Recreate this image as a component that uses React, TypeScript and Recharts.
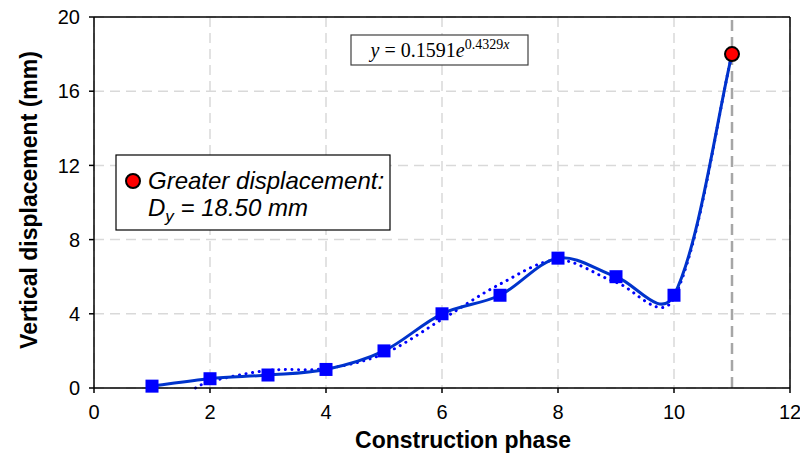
import React from "react";
import {
  ComposedChart,
  Line,
  XAxis,
  YAxis,
  CartesianGrid,
  ReferenceLine,
} from "recharts";

// measured values per construction phase
const phases = [1, 2, 3, 4, 5, 6, 7, 8, 9, 10, 11];
const displacement = [0.1, 0.5, 0.7, 1.0, 2.0, 4.0, 5.0, 7.0, 6.0, 5.0, 18.0];

// dotted trend curve
const trendPhases = [1.75, 2, 3, 4, 5, 6, 7, 8, 9, 10, 11];
const trendValues = [0, 0.35, 0.95, 1.05, 1.85, 3.7, 5.6, 6.9, 5.7, 4.85, 18.0];

const xTicks = [0, 2, 4, 6, 8, 10, 12];
const yTicks = [0, 4, 8, 12, 16, 20];

const measured = phases.map((p, i) => ({ phase: p, value: displacement[i] }));
const trend = trendPhases.map((p, i) => ({ phase: p, value: trendValues[i] }));

const FONT = "'Liberation Sans', Arial, sans-serif";

// Excel-like smoothed line: bezier arms partly scaled by neighbouring segment lengths
function excelSmooth(context: any) {
  let pts: [number, number][] = [];
  const dist = (a: number[], b: number[]) => Math.hypot(a[0] - b[0], a[1] - b[1]);
  return {
    areaStart() {},
    areaEnd() {},
    lineStart() {
      pts = [];
    },
    point(x: number, y: number) {
      pts.push([x, y]);
    },
    lineEnd() {
      if (!pts.length) return;
      context.moveTo(pts[0][0], pts[0][1]);
      for (let i = 0; i < pts.length - 1; i++) {
        const p0 = pts[Math.max(0, i - 1)];
        const p1 = pts[i];
        const p2 = pts[i + 1];
        const p3 = pts[Math.min(pts.length - 1, i + 2)];
        const d01 = dist(p0, p1);
        const d12 = dist(p1, p2);
        const d23 = dist(p2, p3);
        const a = 0.5 * (1 / 6) + 0.5 * (d12 / (d01 + d12 || 1) / 3);
        const b = 0.5 * (1 / 6) + 0.5 * (d12 / (d12 + d23 || 1) / 3);
        context.bezierCurveTo(
          p1[0] + (p2[0] - p0[0]) * a,
          p1[1] + (p2[1] - p0[1]) * a,
          p2[0] - (p3[0] - p1[0]) * b,
          p2[1] - (p3[1] - p1[1]) * b,
          p2[0],
          p2[1]
        );
      }
    },
  };
}

function MarkerDot(props: any) {
  const { cx, cy, index } = props;
  if (cx == null || cy == null) return null;
  if (index === phases.length - 1) {
    return (
      <circle key={index} cx={cx} cy={cy} r={7} fill="#ff0000" stroke="#000" strokeWidth={2} />
    );
  }
  return <rect key={index} x={cx - 6.5} y={cy - 6.5} width={13} height={13} fill="#0000ff" />;
}

export default function App() {
  return (
    <div style={{ position: "absolute", left: 0, top: 0, width: 800, height: 457, background: "#fff" }}>
      <ComposedChart
        width={800}
        height={457}
        margin={{ top: 17, right: 10, bottom: 0, left: 0 }}
      >
        <CartesianGrid stroke="#d9d9d9" strokeWidth={1.5} strokeDasharray="10 6" />
        <XAxis
          type="number"
          dataKey="phase"
          domain={[0, 12]}
          ticks={xTicks}
          allowDataOverflow
          height={69}
          tick={{ fontSize: 20, fill: "#000", fontFamily: FONT }}
          tickSize={5}
          tickMargin={12}
          axisLine={{ stroke: "#000", strokeWidth: 1.5 }}
          tickLine={{ stroke: "#000", strokeWidth: 1.5 }}
        />
        <YAxis
          type="number"
          domain={[0, 20]}
          ticks={yTicks}
          width={94}
          tick={{ fontSize: 20, fill: "#000", fontFamily: FONT }}
          tickSize={5}
          tickMargin={9}
          axisLine={{ stroke: "#000", strokeWidth: 1.5 }}
          tickLine={{ stroke: "#000", strokeWidth: 1.5 }}
        />
        <ReferenceLine y={20} stroke="#000" strokeWidth={1.5} />
        <ReferenceLine x={12} stroke="#000" strokeWidth={1.5} />
        <ReferenceLine x={11} stroke="#a6a6a6" strokeWidth={2.5} strokeDasharray="11 6" />
        <Line
          data={trend}
          dataKey="value"
          type={excelSmooth as any}
          stroke="#0000ff"
          strokeWidth={3}
          strokeDasharray="0.1 6.5"
          strokeLinecap="round"
          dot={false}
          activeDot={false}
          isAnimationActive={false}
        />
        <Line
          data={measured}
          dataKey="value"
          type={excelSmooth as any}
          stroke="#0033cc"
          strokeWidth={3}
          dot={<MarkerDot />}
          activeDot={false}
          isAnimationActive={false}
        />
      </ComposedChart>
      <svg
        width={800}
        height={457}
        style={{ position: "absolute", left: 0, top: 0, pointerEvents: "none" }}
      >
        <text
          x={29}
          y={200}
          transform="rotate(-90 29 200)"
          textAnchor="middle"
          dominantBaseline="central"
          fontFamily={FONT}
          fontWeight="bold"
          fontSize={23}
        >
          Vertical displacement (mm)
        </text>
        <text
          x={463}
          y={448}
          textAnchor="middle"
          fontFamily={FONT}
          fontWeight="bold"
          fontSize={23}
        >
          Construction phase
        </text>

        {/* equation box */}
        <rect x={351} y={35} width={177} height={30} fill="#fff" stroke="#404040" strokeWidth={1.2} />
        <text x={440} y={57} textAnchor="middle" fontFamily="'Liberation Serif', serif" fontSize={20}>
          <tspan fontStyle="italic">y</tspan>
          <tspan> = 0.1591</tspan>
          <tspan fontStyle="italic">e</tspan>
          <tspan fontSize={14} dy={-8}>0.4329</tspan>
          <tspan fontSize={14} fontStyle="italic">x</tspan>
        </text>

        {/* note box */}
        <rect x={116} y={155} width={274} height={75} fill="#fff" stroke="#000" strokeWidth={1.2} />
        <circle cx={133} cy={181} r={7} fill="#ff0000" stroke="#000" strokeWidth={2} />
        <text x={148} y={189} fontFamily={FONT} fontStyle="italic" fontSize={24}>
          Greater displacement:
        </text>
        <text x={148} y={216} fontFamily={FONT} fontStyle="italic" fontSize={24}>
          <tspan>D</tspan>
          <tspan fontSize={17} dy={6}>y</tspan>
          <tspan dy={-6}> = 18.50 mm</tspan>
        </text>
      </svg>
    </div>
  );
}
